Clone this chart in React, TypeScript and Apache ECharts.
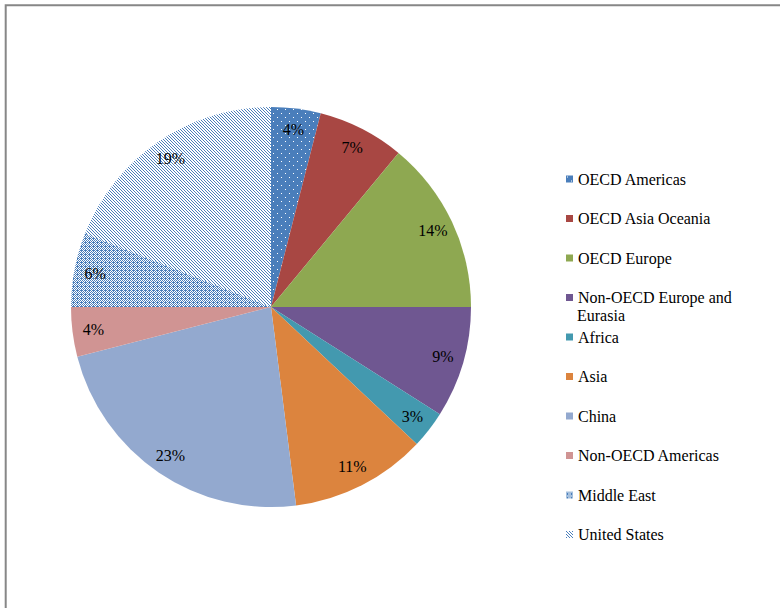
import React, { useEffect, useRef } from "react";
import * as echarts from "echarts";

const categories = [
  "OECD Americas",
  "OECD Asia Oceania",
  "OECD Europe",
  "Non-OECD Europe and Eurasia",
  "Africa",
  "Asia",
  "China",
  "Non-OECD Americas",
  "Middle East",
  "United States",
];
const shares = [4, 7, 14, 9, 3, 11, 23, 4, 6, 19];
const colors = [
  "#4A7EBB",
  "#A84743",
  "#8EA851",
  "#6F5791",
  "#4399AF",
  "#DC843E",
  "#93A9CF",
  "#D09493",
  "#4A7EBB",
  "#4A7EBB",
];
const FONT = "Liberation Serif, Times New Roman, DejaVu Serif, serif";

function makePattern(
  size: number,
  bg: string,
  fg: string,
  test: (x: number, y: number) => boolean
) {
  const c = document.createElement("canvas");
  c.width = size;
  c.height = size;
  const ctx = c.getContext("2d")!;
  ctx.fillStyle = bg;
  ctx.fillRect(0, 0, size, size);
  ctx.fillStyle = fg;
  for (let y = 0; y < size; y++) {
    for (let x = 0; x < size; x++) {
      if (test(x, y)) ctx.fillRect(x, y, 1, 1);
    }
  }
  return c;
}

export default function App() {
  const ref = useRef<HTMLDivElement>(null);

  useEffect(() => {
    if (!ref.current) return;
    const chart = echarts.init(ref.current, null, { renderer: "svg" });

    const dots = makePattern(8, colors[0], "#ffffff", (x, y) => (x === 1 && y === 1) || (x === 5 && y === 5));
    const cross = makePattern(4, "#ffffff", colors[8], (x, y) => (x + y) % 2 === 0 || (x % 4 === 1 && y % 4 === 2));
    const diag = makePattern(3, "#ffffff", colors[9], (x, y) => (x - y + 3) % 3 === 0);

    const fills: any[] = colors.map((c) => c);
    fills[0] = { image: dots, repeat: "repeat" };
    fills[8] = { image: cross, repeat: "repeat" };
    fills[9] = { image: diag, repeat: "repeat" };

    const mainData = categories.map((name, i) => ({
      name,
      value: shares[i],
      itemStyle: { color: fills[i] },
    }));
    const labelData = categories.map((name, i) => ({
      name,
      value: shares[i],
    }));

    chart.setOption({
      animation: false,
      backgroundColor: "#ffffff",
      legend: {
        orient: "vertical",
        left: 561,
        top: 165,
        itemWidth: 7,
        itemHeight: 7,
        itemGap: 21.5,
        icon: "rect",
        selectedMode: false,
        data: categories,
        formatter: (name: string) =>
          name === "Non-OECD Europe and Eurasia" ? "Non-OECD Europe and" : name,
        textStyle: {
          fontFamily: FONT,
          fontSize: 16,
          color: "#000000",
          lineHeight: 18,
        },
      },
      graphic: [
        {
          type: "rect",
          silent: true,
          z: -1,
          shape: { x: 5.7, y: 5.3, width: 900, height: 800 },
          style: { fill: "none", stroke: "#878787", lineWidth: 2 },
        },
        {
          type: "text",
          silent: true,
          x: 577,
          y: 315,
          style: {
            text: "Eurasia",
            fill: "#000000",
            fontFamily: FONT,
            fontSize: 16,
            verticalAlign: "middle",
          },
        },
      ],
      series: [
        {
          type: "pie",
          center: [271, 307],
          radius: [0, 200],
          startAngle: 90,
          clockwise: true,
          avoidLabelOverlap: false,
          label: { show: false },
          labelLine: { show: false },
          emphasis: { disabled: true },
          itemStyle: { borderWidth: 0 },
          data: mainData,
        },
        {
          type: "pie",
          center: [271, 307],
          radius: [152, 200],
          startAngle: 90,
          clockwise: true,
          silent: true,
          avoidLabelOverlap: false,
          emphasis: { disabled: true },
          itemStyle: { color: "rgba(0,0,0,0)", borderWidth: 0 },
          labelLine: { show: false },
          label: {
            show: true,
            position: "inside",
            fontFamily: FONT,
            fontSize: 16,
            color: "#000000",
            formatter: (p: any) => p.value + "%",
          },
          data: labelData,
        },
      ],
    });

    return () => chart.dispose();
  }, []);

  return (
    <div
      ref={ref}
      style={{ position: "fixed", left: 0, top: 0, width: 780, height: 608 }}
    />
  );
}
